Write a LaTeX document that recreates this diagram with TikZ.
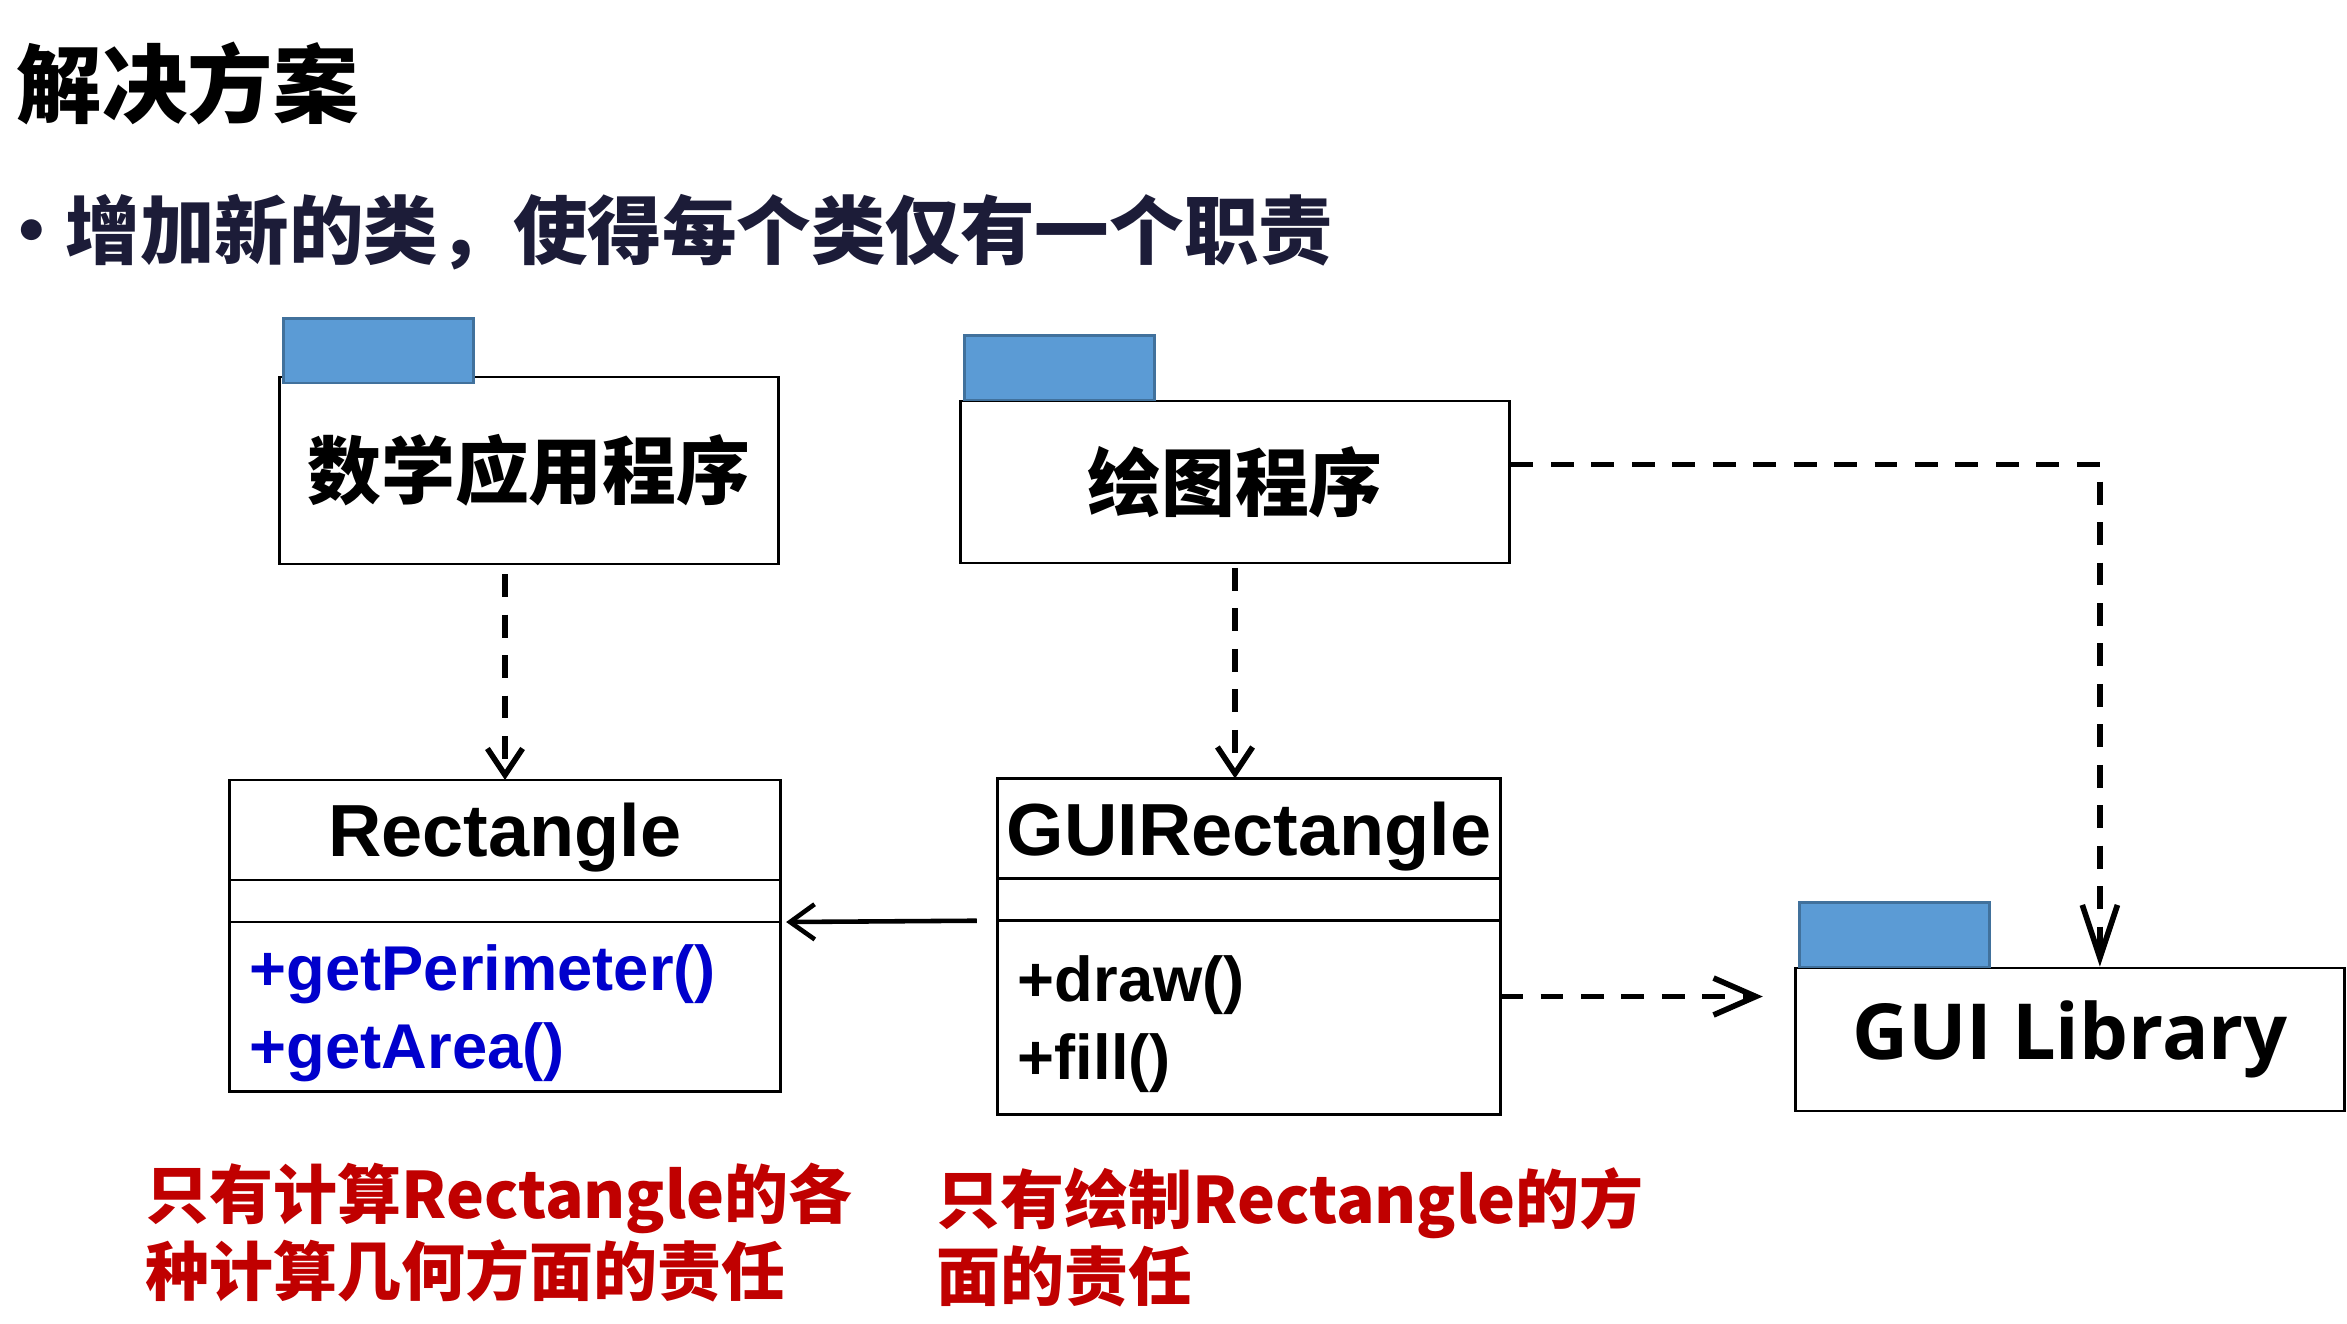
\documentclass[tikz,border=0pt]{standalone}
\usepackage{fontspec}
\setmainfont{Liberation Sans}
\newfontfamily\cjk{Noto Sans CJK SC}
\newfontfamily\guifont{Open Sans}
\usetikzlibrary{arrows.meta, positioning, calc}
\definecolor{tabblue}{HTML}{5B9BD5}
\definecolor{tabline}{HTML}{41719C}
\definecolor{opblue}{HTML}{0000CC}
\definecolor{notered}{HTML}{C00000}
\definecolor{navy}{HTML}{1C1C38}

\begin{document}
\begin{tikzpicture}[x=0.01cm, y=-0.01cm,
    pkgbox/.style={draw, line width=0.8pt, minimum height=1.62cm, inner sep=0,
      font=\cjk\bfseries\fontsize{21}{25}\selectfont},
    pkgtab/.style={draw=tabline, line width=0.8pt, fill=tabblue, minimum width=1.9cm,
      minimum height=0.64cm, inner sep=0, anchor=south west},
    clsname/.style={draw, line width=0.8pt, minimum height=1cm, inner sep=0, outer sep=0,
      text depth=0pt, font=\bfseries\fontsize{21}{25}\selectfont},
    clsattr/.style={draw, line width=0.8pt, minimum height=0.42cm, inner sep=0, outer sep=0},
    clsops/.style={draw, line width=0.8pt, inner xsep=0.2cm, inner ysep=0, outer sep=0,
      align=left, font=\bfseries\fontsize{18}{22.2}\selectfont,
      execute at begin node={\rule{0pt}{17pt}}},
    dep/.style={dash pattern=on 6.5pt off 5pt, line width=1.6pt,
      -{Straight Barb[length=7.5pt,width=10pt]}},
    assoc/.style={line width=1.3pt, -{Straight Barb[length=7pt,width=10pt]}},
    note/.style={anchor=west, inner sep=0, align=left, text=notered,
      font=\cjk\bfseries\fontsize{18.2}{21.9}\selectfont}]

  \useasboundingbox (0,0) rectangle (2347,1323);

  % titulo e topico
  \node[anchor=west, inner sep=0, font=\cjk\bfseries\fontsize{24.3}{28}\selectfont]
    (titulo) at (16,84) {解决方案};
  \node[anchor=west, inner sep=0, text=navy, font=\cjk\bfseries\fontsize{21.2}{25}\selectfont]
    (topico) at (-6,232) {•\hspace{-1pt}增加新的类，使得每个类仅有一个职责};

  % pacotes
  \node[pkgbox, minimum width=4.98cm, minimum height=1.87cm] (pkgmath) at (529,470.5) {数学应用程序};
  \node[pkgbox, minimum width=5.48cm] (pkgdraw) at (1235,482) {绘图程序};
  \node[pkgbox, minimum width=5.48cm, minimum height=1.43cm,
    font=\guifont\bfseries\fontsize{22}{26}\selectfont] (pkggui) at (2070,1039.5) {GUI Library};
  \foreach \p/\dy in {pkgmath/-2.5pt,pkgdraw/-0.5pt,pkggui/-0.5pt}
    \node[pkgtab] (tab\p) at ([xshift=1pt,yshift=\dy]\p.north west) {};

  % classes
  \node[clsname, minimum width=5.5cm] (rect) at (505,830) {Rectangle};
  \node[clsattr, minimum width=5.5cm, below=0pt of rect] (rectattr) {};
  \node[clsops, text width=5.1cm, minimum height=1.69cm, text=opblue, below=0pt of rectattr]
    (rectops) {+getPerimeter()\\+getArea()};

  \node[clsname, minimum width=5.02cm] (guirect) at (1249,828.5) {GUIRectangle};
  \node[clsattr, minimum width=5.02cm, below=0pt of guirect] (guiattr) {};
  \node[clsops, text width=4.62cm, minimum height=1.94cm, below=0pt of guiattr]
    (guiops) {+draw()\\+fill()};

  % dependencias
  \draw[dep, shorten <=2.5pt] (pkgmath.south -| rect.north) -- (rect.north);
  \draw[dep, shorten <=1pt] (pkgdraw.south) -- (pkgdraw.south |- guirect.north);
  \draw[dep, -{Straight Barb[length=15pt,width=10pt]}]
    ([yshift=5pt]pkgdraw.east) -| ([xshift=8.5pt]pkggui.north);
  \draw[dep, -{Straight Barb[length=12pt,width=10.5pt]}, shorten >=9pt]
    ([yshift=6pt]guiops.east) -- ([yshift=6pt]guiops.east -| pkggui.west);
  \draw[assoc, shorten <=6pt, shorten >=1.7pt] (guiattr.south west) -- (rectattr.south east);

  % notas
  \node[note] (notamath) at (145,1233) {只有计算Rectangle的各\\种计算几何方面的责任};
  \node[note] (notadraw) at (936,1237) {只有绘制Rectangle的方\\面的责任};
\end{tikzpicture}
\end{document}
